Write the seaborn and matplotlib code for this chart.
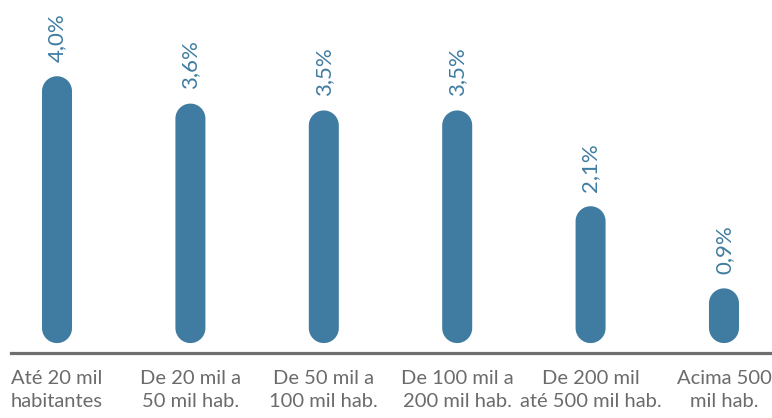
import matplotlib
matplotlib.use("Agg")
import matplotlib.pyplot as plt
import seaborn as sns
import pandas as pd
import numpy as np
from matplotlib.patches import PathPatch
from matplotlib.path import Path

# ---- data ----
categories = [
    "Até 20 mil\nhabitantes",
    "De 20 mil a\n50 mil hab.",
    "De 50 mil a\n100 mil hab.",
    "De 100 mil a\n200 mil hab.",
    "De 200 mil\naté 500 mil hab.",
    "Acima 500\nmil hab.",
]
values = [4.0, 3.6, 3.5, 3.5, 2.1, 0.9]
value_labels = ["4,0%", "3,6%", "3,5%", "3,5%", "2,1%", "0,9%"]

# ---- style ----
BAR = "#407ca1"
AXIS = "#6f6f6f"
TEXT = "#6b6b6b"

sns.set_theme(style="white")
plt.rcParams["font.family"] = ["Lato", "DejaVu Sans"]

fig = plt.figure(figsize=(7.72, 4.18), dpi=100)
ax = fig.add_axes([11 / 772, 1 - 353 / 418, 761 / 772, 353 / 418])

df = pd.DataFrame({"cat": categories, "val": values})
sns.barplot(data=df, x="cat", y="val", color=BAR, saturation=1,
            width=0.225, ax=ax, errorbar=None)

ax.set_xlim(-0.345, 5.36)
ax.set_ylim(-0.045, 5.114)

ax.bar_label(ax.containers[0], labels=value_labels, rotation=90,
             padding=10.5, color=BAR, fontsize=16)

# rounded (stadium-shaped) bars, built from seaborn's rectangles
fig.canvas.draw()
o = ax.transData.transform((0, 0))
px = ax.transData.transform((1, 0))[0] - o[0]
py = ax.transData.transform((0, 1))[1] - o[1]
aspect = px / py
gap = 0.1
t = np.linspace(0, np.pi, 40)
for p in list(ax.patches):
    x, w, h = p.get_x(), p.get_width(), p.get_height()
    fc = p.get_facecolor()
    p.remove()
    rx = w / 2
    ry = rx * aspect
    xc = x + rx
    top, bot = h, gap
    top_arc = np.column_stack([xc + rx * np.cos(t), top - ry + ry * np.sin(t)])
    bot_arc = np.column_stack([xc - rx * np.cos(t), bot + ry - ry * np.sin(t)])
    verts = np.vstack([top_arc, bot_arc, top_arc[:1]])
    ax.add_patch(PathPatch(Path(verts, closed=True), fc=fc, ec="none"))

ax.set_yticks([])
ax.set_xlabel("")
ax.set_ylabel("")
for s in ["left", "right", "top"]:
    ax.spines[s].set_visible(False)
ax.spines["bottom"].set_color(AXIS)
ax.spines["bottom"].set_linewidth(2.3)
ax.tick_params(axis="x", length=0, pad=12, labelsize=14.5, colors=TEXT)
for tl in ax.get_xticklabels():
    tl.set_linespacing(1.45)

fig.savefig("out.png", dpi=100)
